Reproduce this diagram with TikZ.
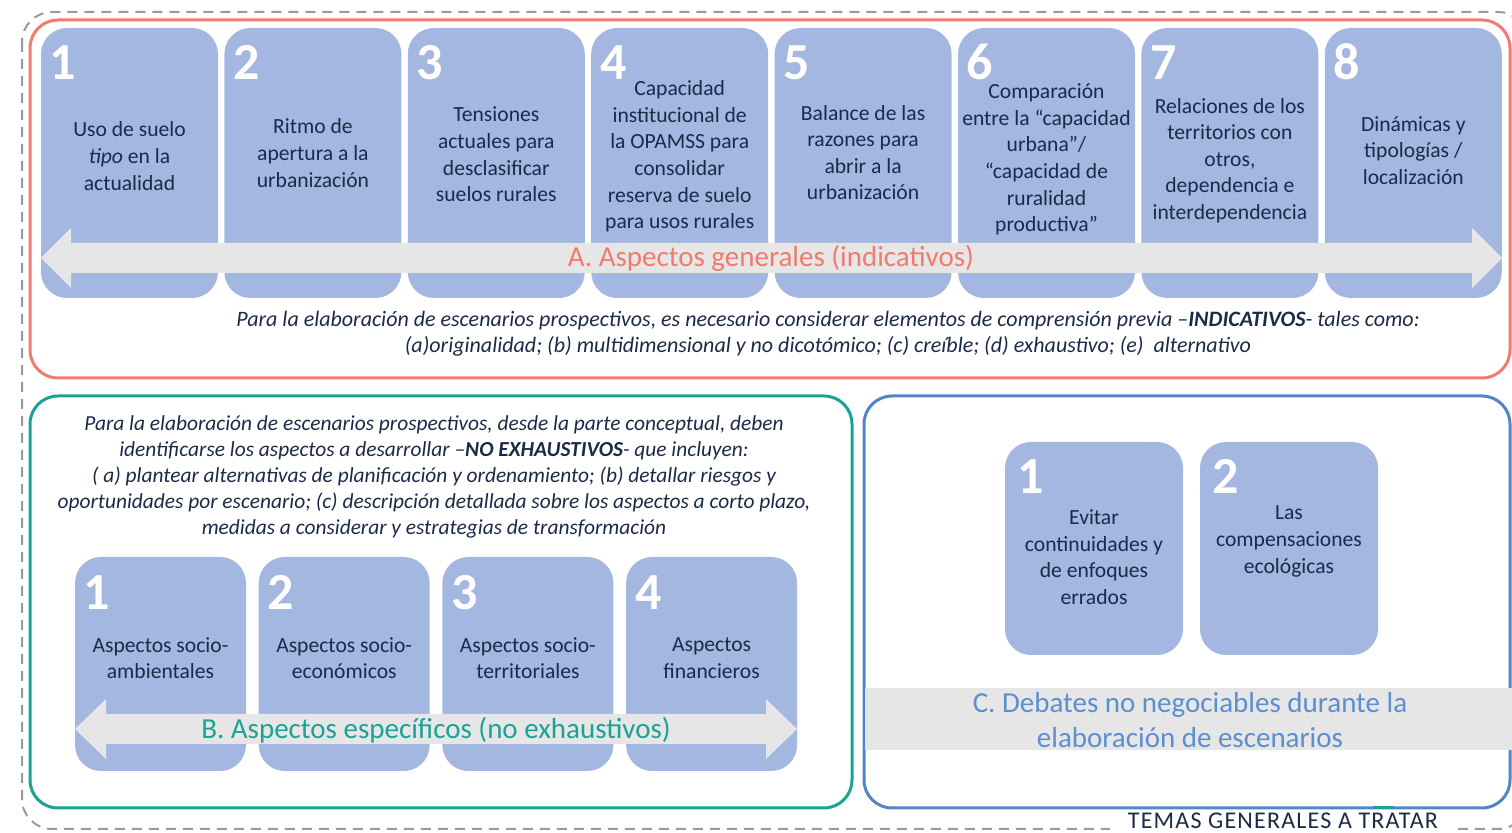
\documentclass[tikz,border=0pt]{standalone}
\usepackage{fontspec}
\setmainfont{Carlito}
\definecolor{boxblue}{HTML}{A3B7E0}
\definecolor{salmonA}{HTML}{F07B6E}
\definecolor{tealB}{HTML}{1AA394}
\definecolor{blueC}{HTML}{4F86C6}
\definecolor{labelC}{HTML}{5B8FD0}
\definecolor{navy}{HTML}{1B2A47}
\definecolor{band}{HTML}{E6E6E6}
\definecolor{dashgray}{HTML}{9A9A9A}
\begin{document}
\begin{tikzpicture}[x=0.5pt,y=-0.5pt,
  topbox/.style={fill=boxblue, draw=none, rounded corners=13pt, minimum width=88.5pt, minimum height=135pt, inner sep=0pt},
  botbox/.style={fill=boxblue, draw=none, rounded corners=13pt, minimum width=85.5pt, minimum height=107pt, inner sep=0pt},
  cbox/.style={fill=boxblue, draw=none, rounded corners=13pt, minimum width=89pt, minimum height=106.5pt, inner sep=0pt},
  numtxt/.style={text=white, font=\fontsize{26}{28}\selectfont\bfseries, anchor=base west, inner sep=0pt},
  boxtxt/.style={text=navy, align=center, font=\fontsize{10.8}{13.3}\selectfont, inner sep=0pt},
  itxt/.style={text=navy, align=center, font=\fontsize{11.0}{13}\selectfont\itshape, inner sep=0pt},
  biglabel/.style={font=\fontsize{14.5}{17.5}\selectfont, inner sep=0pt, align=center},
  frame/.style={line width=1.5pt, rounded corners=14pt}
]
\useasboundingbox (0,0) rectangle (1512,833);
% outer dashed frame
\draw[dashgray, line width=1pt, dash pattern=on 5pt off 3.5pt, rounded corners=15pt] (22,12) rectangle (1528,829);
% frame A
\draw[frame, salmonA] (30,20) rectangle (1510,378);
% frame B
\draw[frame, tealB] (30,396) rectangle (852,808);
% frame C
\draw[frame, blueC] (864,396) rectangle (1510,808);
\draw[tealB, line width=1.5pt] (1373,808) -- (1394,808);

% top boxes
\foreach \i/\cx in {1/129.5,2/312.9,3/496.3,4/679.7,5/863.1,6/1046.5,7/1229.9,8/1413.3}{
  \node[topbox] (a\i) at (\cx,163) {};
  \node[numtxt] (an\i) at (\cx-80,80) {\i};
}
\node[boxtxt] (at1) at (129.5,156) {Uso de suelo\\\textit{tipo} en la\\actualidad};
\node[boxtxt] (at2) at (312.9,153) {Ritmo de\\apertura a la\\urbanización};
\node[boxtxt] (at3) at (496.3,154.5) {Tensiones\\actuales para\\desclasificar\\suelos rurales};
\node[boxtxt] (at4) at (679.7,156.5) {Capacidad\\institucional de\\la OPAMSS para\\consolidar\\reserva de suelo\\para usos rurales};
\node[boxtxt] (at5) at (863.1,152.5) {Balance de las\\razones para\\abrir a la\\urbanización};
\node[boxtxt] (at6) at (1046.5,159.5) {Comparación\\entre la “capacidad\\urbana”/\\“capacidad de\\ruralidad\\productiva”};
\node[boxtxt] (at7) at (1229.9,160.5) {Relaciones de los\\territorios con\\otros,\\dependencia e\\interdependencia};
\node[boxtxt] (at8) at (1413.3,150.5) {Dinámicas y\\tipologías /\\localización};

% arrow A
\fill[band] (41,258) -- (71,228) -- (71,243) -- (1472,243) -- (1472,228) -- (1502,258) -- (1472,288) -- (1472,273) -- (71,273) -- (71,288) -- cycle;
\node[biglabel, text=salmonA] (la) at (771,258) {A. Aspectos generales (indicativos)};

\node[itxt] (ia) at (828,334) {Para la elaboración de escenarios prospectivos, es necesario considerar elementos de comprensión previa –\textbf{INDICATIVOS}- tales como:\\(a)originalidad; (b) multidimensional y no dicotómico; (c) creíble; (d) exhaustivo; (e)~ alternativo};

% B text
\node[itxt, font=\fontsize{10.7}{13}\selectfont\itshape] (ib) at (434,477) {Para la elaboración de escenarios prospectivos, desde la parte conceptual, deben\\identificarse los aspectos a desarrollar –\textbf{NO EXHAUSTIVOS}- que incluyen:\\( a) plantear alternativas de planificación y ordenamiento; (b) detallar riesgos y\\oportunidades por escenario; (c) descripción detallada sobre los aspectos a corto plazo,\\medidas a considerar y estrategias de transformación};

% bottom boxes
\foreach \i/\cx in {1/160.5,2/344.2,3/527.9,4/711.6}{
  \node[botbox] (b\i) at (\cx,664) {};
  \node[numtxt] (bn\i) at (\cx-77,610) {\i};
}
\node[boxtxt] (bt1) at (160.5,658) {Aspectos socio-\\ambientales};
\node[boxtxt] (bt2) at (344.2,658) {Aspectos socio-\\económicos};
\node[boxtxt] (bt3) at (527.9,658) {Aspectos socio-\\territoriales};
\node[boxtxt] (bt4) at (711.6,658) {Aspectos\\financieros};

% arrow B
\fill[band] (75,729) -- (106,699) -- (106,714) -- (766,714) -- (766,699) -- (797,729) -- (766,759) -- (766,744) -- (106,744) -- (106,759) -- cycle;
\node[biglabel, text=tealB] (lb) at (436,730) {B. Aspectos específicos (no exhaustivos)};

% C boxes
\node[cbox] (c1) at (1094,548.5) {};
\node[numtxt] (cn1) at (1017,494) {1};
\node[cbox] (c2) at (1289,548.5) {};
\node[numtxt] (cn2) at (1212,494) {2};
\node[boxtxt] (ct1) at (1094,557) {Evitar\\continuidades y\\de enfoques\\errados};
\node[boxtxt] (ct2) at (1289,541.5) {Las\\compensaciones\\ecológicas};

% band C
\fill[band] (865,688) rectangle (1512,750);
\node[biglabel, text=labelC, font=\fontsize{14.5}{17.5}\selectfont] (lc) at (1190,720) {C. Debates no negociables durante la\\elaboración de escenarios};

% title
\node[fill=white, text=navy, font=\fontsize{12}{13}\selectfont\addfontfeature{LetterSpace=5}, anchor=base, inner xsep=9pt, inner ysep=1pt] (tt) at (1283,829) {TEMAS GENERALES A TRATAR};
\end{tikzpicture}
\end{document}
